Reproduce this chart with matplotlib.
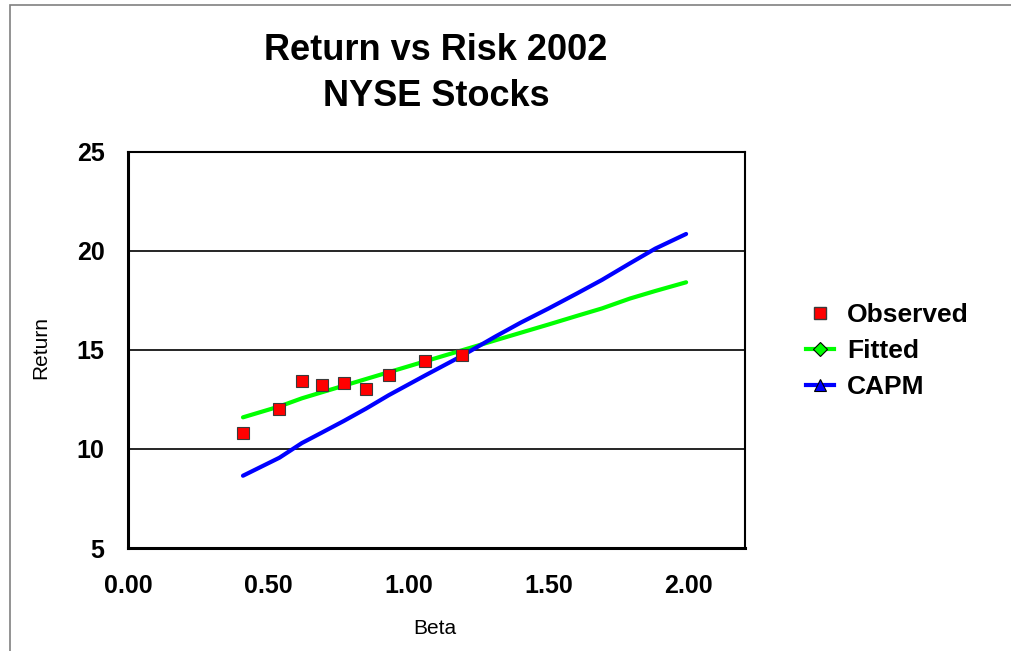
import matplotlib
matplotlib.use('Agg')
import matplotlib.pyplot as plt
import numpy as np
from matplotlib.lines import Line2D
from matplotlib.patches import Rectangle

plt.rcParams['font.family'] = ['Liberation Sans', 'DejaVu Sans']

# ── Datos ─────────────────────────────────────────────────────────
beta     = [0.41, 0.54, 0.62, 0.69, 0.77, 0.85, 0.93, 1.06, 1.19,
            1.31, 1.40, 1.50, 1.60, 1.69, 1.79, 1.88, 1.99]
observed = [10.79, 12.00, 13.43, 13.23, 13.33, 13.03, 13.75, 14.46, 14.76,
            np.nan, np.nan, np.nan, np.nan, np.nan, np.nan, np.nan, np.nan]
fitted   = [11.60, 12.15, 12.56, 12.86, 13.20, 13.54, 13.88, 14.43, 14.98,
            15.49, 15.87, 16.29, 16.72, 17.10, 17.60, 17.98, 18.42]
capm     = [8.65, 9.56, 10.30, 10.82, 11.42, 12.05, 12.72, 13.72, 14.70,
            15.68, 16.38, 17.10, 17.85, 18.54, 19.38, 20.12, 20.86]

x_ticks = [0.0, 0.5, 1.0, 1.5, 2.0]
y_ticks = [5, 10, 15, 20, 25]

W, H = 1011, 651

# ── Figura ────────────────────────────────────────────────────────
fig = plt.figure(figsize=(W / 100, H / 100), dpi=100)
fig.patches.append(Rectangle((10 / W, -0.1), 1.2, 1 - 5 / H + 0.1,
                             transform=fig.transFigure, fill=False,
                             edgecolor='#808080', linewidth=1.2))
ax = fig.add_axes([128 / W, 1 - 548 / H, 617 / W, 396 / H])

ax.plot(beta, fitted, color='#00FF00', linewidth=3, solid_capstyle='round', zorder=3)
ax.plot(beta, capm, color='#0000FF', linewidth=3, solid_capstyle='round', zorder=3)
ax.plot(beta, observed, linestyle='none', marker='s', markersize=9,
        markerfacecolor='#FF0000', markeredgecolor='#3a3a3a',
        markeredgewidth=0.8, zorder=4)

ax.set_xlim(0, 2.2)
ax.set_ylim(5, 25)
ax.set_xticks(x_ticks)
ax.set_xticklabels([f'{v:.2f}' for v in x_ticks], fontsize=18, fontweight='bold')
ax.set_yticks(y_ticks)
ax.set_yticklabels([str(v) for v in y_ticks], fontsize=18, fontweight='bold')
ax.tick_params(length=0)
ax.tick_params(axis='y', pad=17)
ax.tick_params(axis='x', pad=19)
ax.grid(axis='y', color='black', linewidth=1.2)
ax.set_axisbelow(True)
for s in ax.spines.values():
    s.set_linewidth(1.5)
ax.spines['left'].set_linewidth(2.2)
ax.spines['bottom'].set_linewidth(2.2)

ax.set_xlabel('Beta', fontsize=15)
ax.set_ylabel('Return', fontsize=15)
ax.xaxis.set_label_coords((435 - 128) / 617, (548 - 628) / 396)
ax.yaxis.set_label_coords((41 - 128) / 617, (548 - 348) / 396)
ax.xaxis.label.set_va('center')
ax.yaxis.label.set_va('center')

# título en dos líneas, centrado sobre el área de trazado
fig.text(436 / W, 1 - 51 / H, 'Return vs Risk 2002', fontsize=26,
         fontweight='bold', ha='center', va='center')
fig.text(436 / W, 1 - 96 / H, 'NYSE Stocks', fontsize=26,
         fontweight='bold', ha='center', va='center')

handles = [
    Line2D([], [], linestyle='none', marker='s', markersize=9,
           markerfacecolor='#FF0000', markeredgecolor='#3a3a3a'),
    Line2D([], [], color='#00FF00', linewidth=3, marker='D', markersize=7,
           markerfacecolor='#00FF00', markeredgecolor='black', markeredgewidth=0.8),
    Line2D([], [], color='#0000FF', linewidth=3, marker='^', markersize=9,
           markerfacecolor='#0000FF', markeredgecolor='black', markeredgewidth=0.8),
]
fig.legend(handles, ['Observed', 'Fitted', 'CAPM'], loc='center left',
           bbox_to_anchor=(806 / W, 1 - 351 / H), frameon=False, borderpad=0,
           borderaxespad=0, prop={'size': 19, 'weight': 'bold'},
           handlelength=1.05, labelspacing=0.45, handletextpad=0.5)

fig.savefig('out.png', dpi=100)
